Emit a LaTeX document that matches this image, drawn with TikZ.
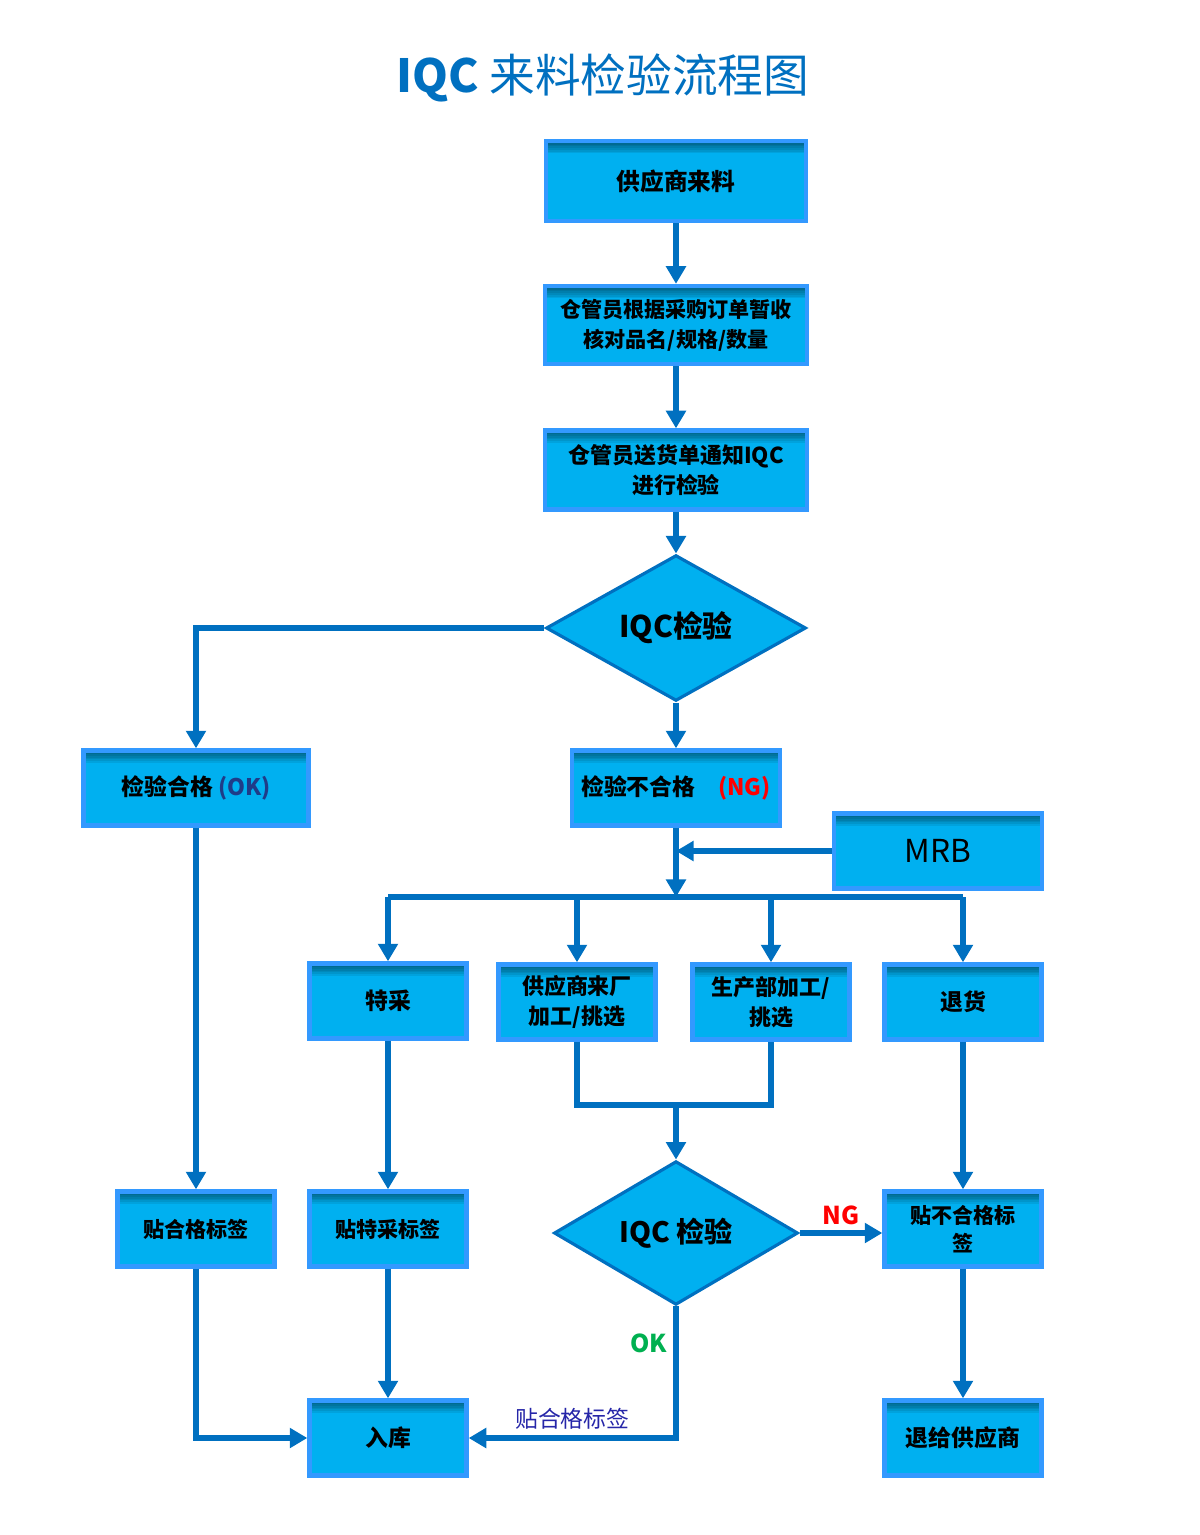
\documentclass[tikz,border=0pt]{standalone}
\usepackage{fontspec}
\setmainfont{Noto Sans CJK SC}
\usepackage{tikz}
\usetikzlibrary{arrows.meta, positioning, shapes.geometric, calc}

\definecolor{boxfill}{HTML}{00B0F0}
\definecolor{boxline}{HTML}{3399FF}
\definecolor{flowline}{HTML}{0070C0}
\definecolor{okblue}{HTML}{1F3C88}
\definecolor{okgreen}{HTML}{00B050}
\definecolor{labelblue}{HTML}{2626A8}

\begin{document}
\begin{tikzpicture}[
  x=0.02cm, y=-0.02cm,
  box/.style={draw=boxline,line width=2.5pt,fill=boxfill,align=center,inner sep=2pt,
    minimum height=1.5cm,font=\bfseries\fontsize{13}{17}\selectfont,
    path picture={\foreach \d in {1,...,7}
      \fill[black,opacity=0.08] (path picture bounding box.north west) rectangle ([yshift=-\d pt]path picture bounding box.north east);}},
  tagbox/.style={box,minimum width=3.14cm},
  decision/.style={diamond,draw=flowline,line width=1.8pt,fill=boxfill,inner sep=0pt,
    font=\bfseries\fontsize{17}{20}\selectfont},
  arrow/.style={-{Triangle[width=11pt,length=10pt]},draw=flowline,line width=3.2pt},
  link/.style={draw=flowline,line width=3.2pt},
  flag/.style={font=\bfseries\fontsize{14}{16}\selectfont}
]
\useasboundingbox (0,0) rectangle (1200,1535);

% ----- Titre ---------------------------------------------------------------
\node[text=flowline,font=\fontsize{26}{30}\selectfont] (title) at (603,78) {\textbf{IQC} 来料检验流程图};

% ----- Réception -----------------------------------------------------------
\node[box,minimum width=5.2cm,minimum height=1.6cm,font=\bfseries\fontsize{13.5}{17}\selectfont] (supply) at (676,181) {供应商来料};
\node[box,minimum width=5.24cm,minimum height=1.56cm,font=\bfseries\fontsize{12}{17}\selectfont] (receive) at (676,325) {仓管员根据采购订单暂收\\核对品名/规格/数量};
\node[box,minimum width=5.24cm,minimum height=1.58cm,font=\bfseries\fontsize{12.5}{17}\selectfont] (notify) at (676,470) {仓管员送货单通知IQC\\进行检验};
\node[decision,minimum width=5.2cm,minimum height=2.48cm] (iqc) at (676,628) {IQC检验};

% ----- Résultat ------------------------------------------------------------
\node[box,minimum width=4.5cm]  (pass) at (196,788) {检验合格~\textcolor{okblue}{(OK)}};
\node[box,minimum width=4.16cm] (fail) at (676,788) {检验不合格\quad\textcolor{red}{(NG)}};
\node[box,minimum width=4.16cm,font=\fontsize{18}{20}\selectfont] (mrb) at (938,851) {MRB};

% ----- Traitement NG --------------------------------------------------------
\node[tagbox] (special) at (388,1001) {特采};
\node[tagbox,font=\bfseries\fontsize{12.5}{17}\selectfont] (rework)  at (577,1002) {供应商来厂\\加工/挑选};
\node[tagbox,font=\bfseries\fontsize{12.5}{17}\selectfont] (prodfix) at (771,1002) {生产部加工/\\挑选};
\node[tagbox] (reject)  at (963,1002) {退货};

% ----- Étiquettes ------------------------------------------------------------
\node[tagbox,font=\bfseries\fontsize{12}{16}\selectfont] (oktag) at (196,1229) {贴合格标签};
\node[tagbox,font=\bfseries\fontsize{12}{16}\selectfont] (sptag) at (388,1229) {贴特采标签};
\node[decision,minimum width=4.88cm,minimum height=2.62cm,font=\bfseries\fontsize{16}{20}\selectfont] (iqc2) at (676,1233) {IQC 检验};
\node[tagbox,font=\bfseries\fontsize{12}{16}\selectfont] (badtag) at (963,1229) {贴不合格标\\签};

% ----- Sorties ---------------------------------------------------------------
\node[tagbox] (store)    at (388,1438) {入库};
\node[tagbox] (giveback) at (963,1438) {退给供应商};

% ----- Points de jonction ------------------------------------------------------
\coordinate (bus)   at (676,897);
\coordinate (busL)  at (388,897);
\coordinate (busR)  at (963,897);
\coordinate (merge) at (676,1105);

% ----- Flèches -----------------------------------------------------------------
\draw[arrow] (supply) -- (receive);
\draw[arrow] (receive) -- (notify);
\draw[arrow] (notify) -- (iqc);
\draw[arrow] (iqc.west) -| (pass.north);
\draw[arrow] (iqc) -- (fail);
\draw[arrow] (fail) -- (bus);
\draw[arrow] (mrb.west) -- (mrb.west -| fail);

\draw[link] (busL) -- (busR);
\draw[arrow] (busL) -- (special);
\draw[arrow] (bus -| rework) -- (rework);
\draw[arrow] (bus -| prodfix) -- (prodfix);
\draw[arrow] (busR) -- (reject);

\draw[link] (rework.south) |- (merge) -| (prodfix.south);
\draw[arrow] (merge) -- (iqc2);
\draw[arrow] (iqc2.east) -- node[midway,above,flag,text=red]{NG} (iqc2.east -| badtag.west);
\draw[arrow] (iqc2.south) |- node[pos=0.14,left,flag,text=okgreen]{OK}
  node[pos=0.75,above,text=labelblue,font=\fontsize{13}{15}\selectfont]{贴合格标签} (store.east);

\draw[arrow] (pass) -- (oktag);
\draw[arrow] (special) -- (sptag);
\draw[arrow] (reject) -- (badtag);
\draw[arrow] (oktag.south) |- (store.west);
\draw[arrow] (sptag) -- (store);
\draw[arrow] (badtag) -- (giveback);

\end{tikzpicture}
\end{document}
